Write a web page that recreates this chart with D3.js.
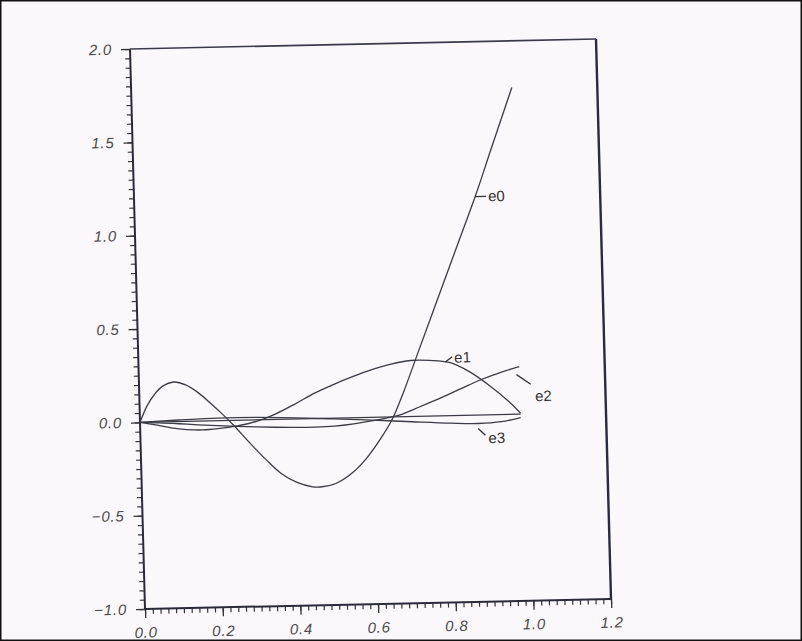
<!DOCTYPE html>
<html>
<head>
<meta charset="utf-8">
<script src="https://cdn.jsdelivr.net/npm/d3@7"></script>
<style>
  html, body { margin: 0; padding: 0; background: #fbf8fc; }
  svg { display: block; }
  .tick text { font-family: "Liberation Sans", Arial, sans-serif; font-style: italic; font-size: 15px; letter-spacing: 0.8px; fill: #4a4a4a; }
</style>
</head>
<body>
<svg id="chart" width="802" height="641"></svg>
<script>
// ---- data ----
const e0X = [0,0.02,0.04,0.06,0.09,0.12,0.15,0.18,0.21,0.24,0.28,0.32,0.36,0.40,0.44,0.46,0.50,0.54,0.58,0.62,0.65,0.68,0.72,0.76,0.80,0.84,0.88,0.92,0.95,0.98];
const e0Y = [0,0.09,0.15,0.19,0.212,0.195,0.155,0.10,0.04,-0.025,-0.12,-0.21,-0.29,-0.34,-0.365,-0.367,-0.35,-0.30,-0.22,-0.11,-0.01,0.13,0.34,0.55,0.76,0.97,1.18,1.41,1.58,1.75];

const e1X = [0,0.04,0.08,0.12,0.16,0.20,0.25,0.30,0.35,0.40,0.45,0.50,0.55,0.60,0.65,0.70,0.75,0.80,0.85,0.90,0.95,0.98];
const e1Y = [0,-0.015,-0.033,-0.044,-0.048,-0.043,-0.03,-0.008,0.03,0.08,0.135,0.18,0.22,0.255,0.283,0.30,0.298,0.285,0.235,0.16,0.07,0.005];

const e2X = [0,0.05,0.1,0.15,0.2,0.25,0.3,0.35,0.4,0.45,0.5,0.55,0.6,0.64,0.67,0.72,0.78,0.83,0.875,0.93,0.98];
const e2Y = [0,-0.005,-0.012,-0.02,-0.027,-0.033,-0.038,-0.042,-0.045,-0.046,-0.043,-0.033,-0.018,-0.003,0.01,0.05,0.10,0.145,0.185,0.225,0.255];

const e3X = [0,0.1,0.2,0.3,0.4,0.5,0.6,0.7,0.8,0.87,0.93,0.98];
const e3Y = [0,0.008,0.014,0.013,0.006,-0.004,-0.015,-0.028,-0.04,-0.045,-0.038,-0.018];

const zeroX = [0,0.98];
const zeroY = [0,0];

const seriesNames = ["e0","e1","e2","e3"];
const xMajorTicks = [0,0.2,0.4,0.6,0.8,1.0,1.2];
const yMajorTicks = [-1.0,-0.5,0.0,0.5,1.0,1.5,2.0];

// ---- layout ----
const W = 466, H = 560;
const svg = d3.select("#chart");
svg.append("rect").attr("x",0.75).attr("y",0.75).attr("width",800.5).attr("height",639.5)
   .attr("fill","#fbf8fc").attr("stroke","#111").attr("stroke-width",1.5);

// the scanned figure is slightly skewed: reproduce with an affine transform
const g = svg.append("g").attr("transform","matrix(1,-0.02146,0.02679,1,130,49)");

const x = d3.scaleLinear().domain([0,1.2]).range([0,W]);
const y = d3.scaleLinear().domain([-1,2]).range([H,0]);

const xMinor = d3.range(0,61).map(i => i*0.02);
const yMinor = d3.range(0,61).map(i => -1 + i*0.05);

// minor ticks
g.append("g").attr("transform",`translate(0,${H})`)
  .call(d3.axisBottom(x).tickValues(xMinor).tickSize(5).tickFormat(""))
  .call(s => s.select(".domain").remove())
  .selectAll("line").attr("stroke","#333").attr("stroke-width",1.2);
g.append("g")
  .call(d3.axisLeft(y).tickValues(yMinor).tickSize(5).tickFormat(""))
  .call(s => s.select(".domain").remove())
  .selectAll("line").attr("stroke","#333").attr("stroke-width",1.2);

// major ticks + labels
const fmt = d3.format(".1f");
const xAx = g.append("g").attr("transform",`translate(0,${H})`)
  .call(d3.axisBottom(x).tickValues(xMajorTicks).tickSize(9).tickPadding(9).tickFormat(fmt));
xAx.select(".domain").remove();
xAx.selectAll("line").attr("stroke","#333").attr("stroke-width",1.3);

const yAx = g.append("g")
  .call(d3.axisLeft(y).tickValues(yMajorTicks).tickSize(9).tickPadding(9).tickFormat(fmt));
yAx.select(".domain").remove();
yAx.selectAll("line").attr("stroke","#333").attr("stroke-width",1.3);

// frame
g.append("line").attr("x1",x(0)).attr("x2",x(0)).attr("y1",y(2)).attr("y2",y(-1)).attr("stroke","#2a2a3a").attr("stroke-width",2);
g.append("line").attr("x1",x(0)).attr("x2",x(1.2)).attr("y1",y(-1)).attr("y2",y(-1)).attr("stroke","#2a2a3a").attr("stroke-width",2);
g.append("line").attr("x1",x(0)).attr("x2",x(1.2)).attr("y1",y(2)).attr("y2",y(2)).attr("stroke","#3a3a4a").attr("stroke-width",1.6);
g.append("line").attr("x1",x(1.2)).attr("x2",x(1.2)).attr("y1",y(2)).attr("y2",y(-1)).attr("stroke","#2a2a40").attr("stroke-width",2.4);

// curves
const line = d3.line().x(d => x(d[0])).y(d => y(d[1])).curve(d3.curveCatmullRom.alpha(0.5));
const series = [
  {name:"e0", xs:e0X, ys:e0Y},
  {name:"e1", xs:e1X, ys:e1Y},
  {name:"e2", xs:e2X, ys:e2Y},
  {name:"e3", xs:e3X, ys:e3Y},
  {name:"zero", xs:zeroX, ys:zeroY}
];
g.selectAll("path.curve").data(series).join("path")
  .attr("class","curve")
  .attr("d", s => line(s.xs.map((v,i) => [v, s.ys[i]])))
  .attr("fill","none").attr("stroke","#3b3b45").attr("stroke-width",1.3);

// curve labels with leader ticks (anchor on curve, offsets in px)
const labelAnchors = [
  {name:"e0", ax:0.878, ay:1.17, t:[[0,0],[11,0]], tx:13, ty:5},
  {name:"e1", ax:0.79,  ay:0.288, t:[[0,0],[7,-5]], tx:9, ty:1},
  {name:"e2", ax:0.98,  ay:0.255, t:[[-3,8],[11,18]], tx:15, ty:35},
  {name:"e3", ax:0.87,  ay:-0.045, t:[[0,5],[7,12]], tx:10, ty:20}
];
labelAnchors.forEach(l => {
  const px = x(l.ax), py = y(l.ay);
  g.append("line").attr("x1",px+l.t[0][0]).attr("y1",py+l.t[0][1])
    .attr("x2",px+l.t[1][0]).attr("y2",py+l.t[1][1])
    .attr("stroke","#333").attr("stroke-width",1.3);
  g.append("text").attr("x",px+l.tx).attr("y",py+l.ty)
    .attr("font-family","'Liberation Sans', Arial, sans-serif").attr("font-size",15)
    .attr("fill","#333").text(l.name);
});
</script>
</body>
</html>
